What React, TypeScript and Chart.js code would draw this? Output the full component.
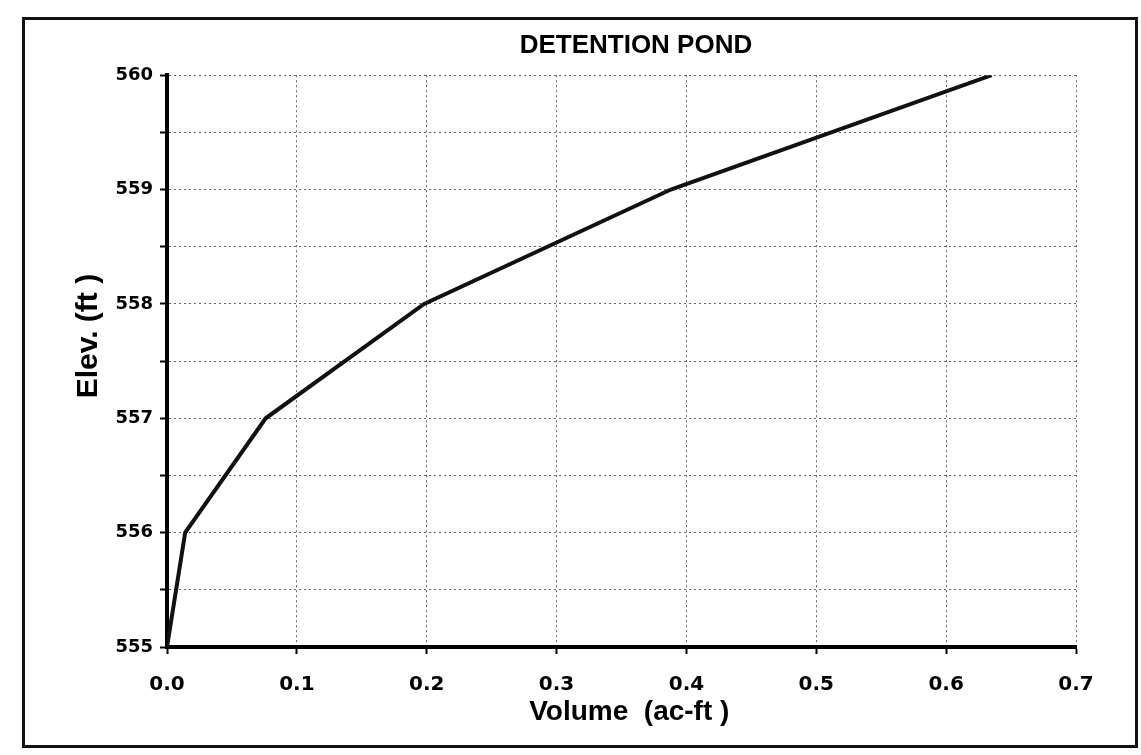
import React, { useEffect, useRef } from "react";
import { Chart, registerables } from "chart.js";

Chart.register(...registerables);

const chartTitle = "    DETENTION POND";
const xAxisTitle = "  Volume  (ac-ft )";
const yAxisTitle = "      Elev. (ft )";

const volumes = [0, 0.014, 0.076, 0.198, 0.388, 0.635];
const elevations = [555, 556, 557, 558, 559, 560];

const xTickLabels = ["0.0", "0.1", "0.2", "0.3", "0.4", "0.5", "0.6", "0.7"];
const yTickLabels = ["555", "556", "557", "558", "559", "560"];

const frameBorder = {
  id: "frameBorder",
  afterDraw(chart: any) {
    const ctx = chart.ctx;
    ctx.save();
    ctx.strokeStyle = "#111";
    ctx.lineWidth = 3;
    ctx.strokeRect(23.5, 18.5, 1113, 728);
    ctx.restore();
  },
};

export default function App() {
  const ref = useRef<HTMLCanvasElement | null>(null);

  useEffect(() => {
    if (!ref.current) return;
    const points = volumes.map((v, i) => ({ x: v, y: elevations[i] }));
    const chart = new Chart(ref.current, {
      type: "line",
      data: {
        datasets: [
          {
            data: points,
            borderColor: "#111",
            borderWidth: 4,
            pointRadius: 0,
            tension: 0,
            fill: false,
          },
        ],
      },
      options: {
        animation: false,
        responsive: true,
        maintainAspectRatio: false,
        layout: { padding: { left: 0, top: 0, right: 65, bottom: 0 } },
        plugins: {
          legend: { display: false },
          tooltip: { enabled: false },
          title: {
            display: true,
            text: chartTitle,
            fullSize: false,
            color: "#000",
            font: { family: "'Liberation Sans', Arial, sans-serif", size: 26, weight: "bold" },
            padding: { top: 30, bottom: 14 },
          },
        },
        scales: {
          x: {
            type: "linear",
            min: 0,
            max: 0.7,
            afterFit: (s: any) => {
              s.height = 108;
            },
            ticks: {
              stepSize: 0.1,
              color: "#000",
              padding: 19,
              maxRotation: 0,
              autoSkip: false,
              font: { family: "'DejaVu Sans', sans-serif", size: 20, weight: "bold" },
              callback: (v: any) => {
                const i = Math.round(Number(v) * 10);
                return xTickLabels[i] ?? "";
              },
            },
            grid: {
              color: "#666",
              lineWidth: 1,
              tickLength: 7,
              tickColor: "#000",
              tickWidth: 2,
            },
            border: { display: true, color: "#000", width: 4, dash: [2, 3] },
            title: {
              display: true,
              text: xAxisTitle,
              color: "#000",
              font: { family: "'Liberation Sans', Arial, sans-serif", size: 28, weight: "bold" },
              padding: { top: 0, bottom: 26 },
            },
          },
          y: {
            type: "linear",
            min: 555,
            max: 560,
            afterFit: (s: any) => {
              s.width = 167;
            },
            ticks: {
              stepSize: 0.5,
              color: "#000",
              padding: 7,
              autoSkip: false,
              font: { family: "'DejaVu Sans', sans-serif", size: 18, weight: "bold" },
              callback: (v: any) => {
                const n = Number(v);
                if (Math.abs(n - Math.round(n)) > 1e-6) return "";
                return yTickLabels[Math.round(n) - 555] ?? "";
              },
            },
            grid: {
              color: "#666",
              lineWidth: 1,
              tickLength: 7,
              tickColor: "#000",
              tickWidth: 2,
            },
            border: { display: true, color: "#000", width: 4, dash: [2, 3] },
            title: {
              display: true,
              text: yAxisTitle,
              color: "#000",
              font: { family: "'Liberation Sans', Arial, sans-serif", size: 30, weight: "bold" },
              padding: { top: 71, bottom: 0 },
            },
          },
        },
      },
      plugins: [frameBorder],
    });
    return () => chart.destroy();
  }, []);

  return (
    <div style={{ position: "fixed", left: 0, top: 0, width: 1141, height: 755, background: "#fff" }}>
      <canvas ref={ref} />
    </div>
  );
}
